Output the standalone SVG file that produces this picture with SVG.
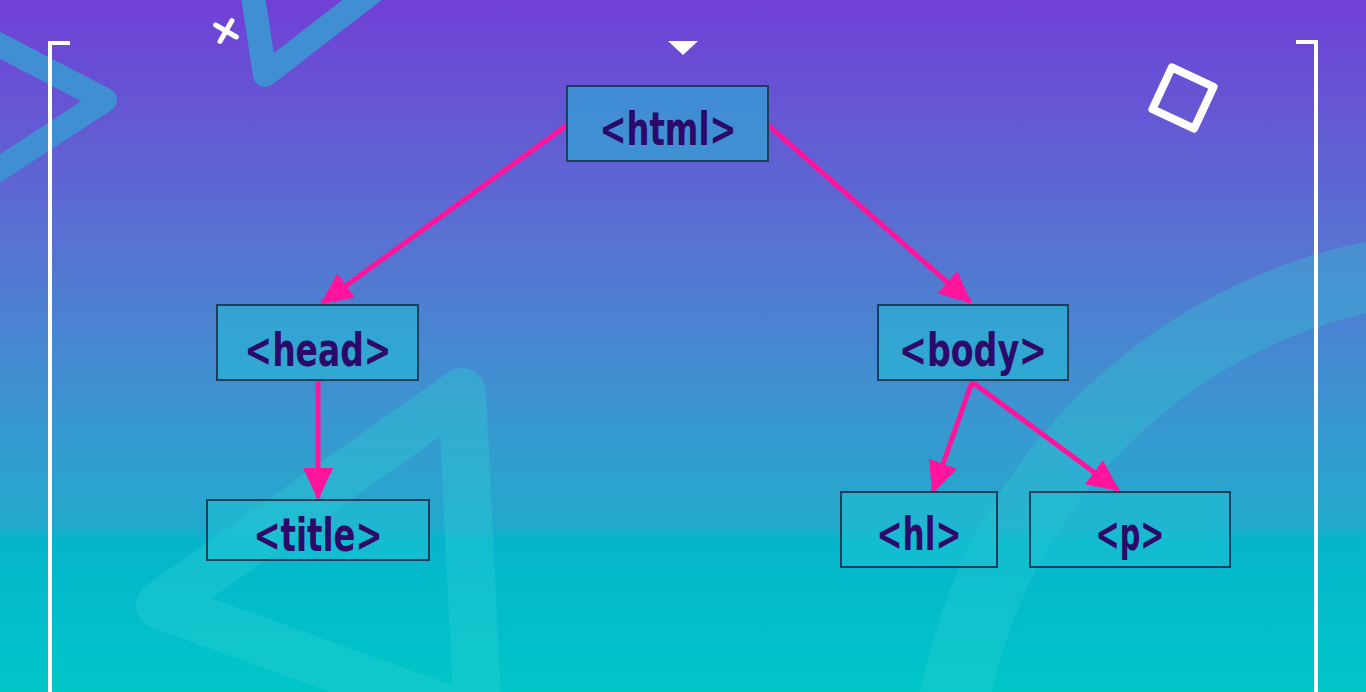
<svg xmlns="http://www.w3.org/2000/svg" width="1366" height="692" viewBox="0 0 1366 692">
<defs>
<linearGradient id="bg" x1="0" y1="0" x2="0" y2="1">
<stop offset="0" stop-color="#7040d6"/>
<stop offset="0.35" stop-color="#5872d2"/>
<stop offset="0.6" stop-color="#3a96d0"/>
<stop offset="0.76" stop-color="#22a9cd"/>
<stop offset="0.78" stop-color="#06b4cc"/>
<stop offset="1" stop-color="#00c6c8"/>
</linearGradient>
<marker id="ah" markerUnits="userSpaceOnUse" markerWidth="34" markerHeight="30" refX="30" refY="15" orient="auto">
<path d="M0,0 L32,15 L0,30 Z" fill="#ff149b"/>
</marker>
<style>
.deco{fill:none;stroke:#3f8fd2;stroke-width:24;stroke-linecap:round;stroke-linejoin:round}
.deco2{fill:none;stroke:#2fd0d4;stroke-opacity:0.35;stroke-width:48;stroke-linejoin:round}
.wh{fill:none;stroke:#ffffff;stroke-width:4}
.box{fill:#1ec4d6;fill-opacity:0.5;stroke:#1b3f5c;stroke-width:2}
.lbl{font-family:"DejaVu Sans Condensed","Liberation Sans Narrow","Liberation Sans",sans-serif;font-weight:bold;font-size:46px;fill:#2c0a6a;text-anchor:middle}
.con{fill:none;stroke:#ff149b;stroke-width:5;marker-end:url(#ah)}
</style>
</defs>
<rect width="1366" height="692" fill="url(#bg)"/>
<g id="decor">
<polyline class="deco" points="-10,40 105,100 -10,175"/>
<polyline class="deco" points="252,-10 265,75 375,-10"/>
<polygon class="deco2" points="462,392 160,605 478,720"/>
<circle cx="1480" cy="800" r="535" fill="none" stroke="#2fd0d4" stroke-opacity="0.3" stroke-width="70"/>
<polyline class="wh" points="70,43 50,43 50,692"/>
<polyline class="wh" points="1296,42 1316,42 1316,692"/>
<g transform="translate(226,31) rotate(30)" stroke="#fff" stroke-width="5" stroke-linecap="round">
<line x1="-12" y1="0" x2="12" y2="0"/><line x1="0" y1="-12" x2="0" y2="12"/>
</g>
<polygon points="668,41 698,41 683,55" fill="#fff"/>
<rect x="-23" y="-23" width="46" height="46" transform="translate(1183,98) rotate(25)" fill="none" stroke="#fff" stroke-width="8" stroke-linejoin="round"/>
</g>
<g id="connectors">
<line class="con" x1="567" y1="125" x2="322" y2="303"/>
<line class="con" x1="768" y1="125" x2="970" y2="302"/>
<line class="con" x1="318" y1="381" x2="318" y2="498"/>
<line class="con" x1="972" y1="382" x2="933" y2="492"/>
<line class="con" x1="972" y1="382" x2="1118" y2="490"/>
</g>
<g id="n-html"><rect class="box" x="567" y="86" width="201" height="75"/><text class="lbl" x="668" y="145" textLength="137" lengthAdjust="spacingAndGlyphs">&lt;html&gt;</text></g>
<g id="n-head"><rect class="box" x="217" y="305" width="201" height="75"/><text class="lbl" x="318" y="366" textLength="147" lengthAdjust="spacingAndGlyphs">&lt;head&gt;</text></g>
<g id="n-body"><rect class="box" x="878" y="305" width="190" height="75"/><text class="lbl" x="973" y="366" textLength="148" lengthAdjust="spacingAndGlyphs">&lt;body&gt;</text></g>
<g id="n-title"><rect class="box" x="207" y="500" width="222" height="60"/><text class="lbl" x="318" y="551" textLength="129" lengthAdjust="spacingAndGlyphs">&lt;title&gt;</text></g>
<g id="n-h1"><rect class="box" x="841" y="492" width="156" height="75"/><text class="lbl" x="919" y="550" textLength="85" lengthAdjust="spacingAndGlyphs">&lt;hl&gt;</text></g>
<g id="n-p"><rect class="box" x="1030" y="492" width="200" height="75"/><text class="lbl" x="1130" y="550" textLength="69" lengthAdjust="spacingAndGlyphs">&lt;p&gt;</text></g>
</svg>
